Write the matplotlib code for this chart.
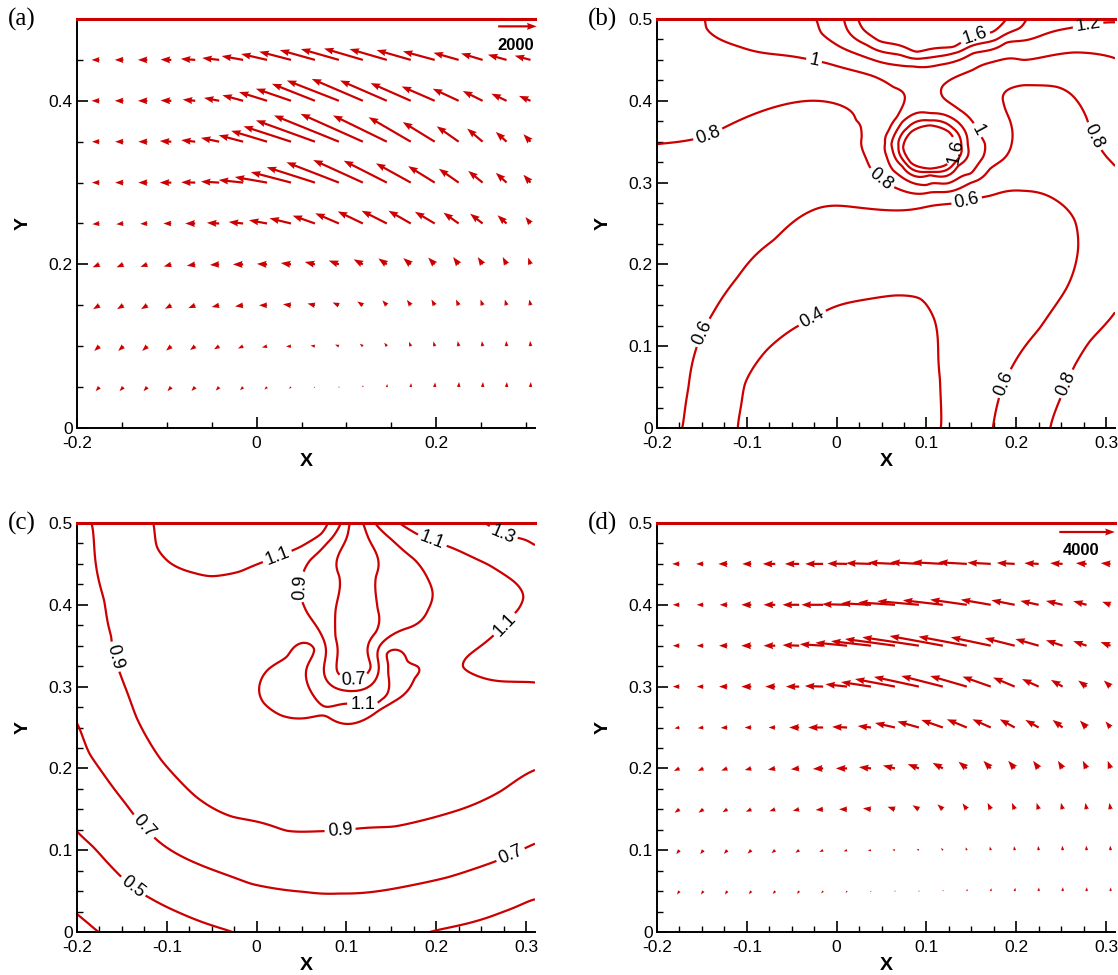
import numpy as np
import matplotlib
matplotlib.use('Agg')
import matplotlib.pyplot as plt
from matplotlib.ticker import MultipleLocator, FuncFormatter

plt.rcParams['font.family'] = ['Liberation Sans', 'DejaVu Sans']
plt.rcParams['axes.unicode_minus'] = False

RED = '#cc0000'

# ---------------- vector fields (a) and (d) ----------------
# grid of arrow tails
xq = np.linspace(-0.175, 0.305, 19)
yq = [0.05, 0.10, 0.15, 0.20, 0.25, 0.30, 0.35, 0.40, 0.45]

# (a) velocity components, one row per yq value (bottom -> top)
ua = [
    [-200, -200, -200, -200, -200, -180, -160, -140, -110, -70, -40, 0, 20, 20, 20, 20, 20, 20, 20],
    [-270, -270, -270, -270, -270, -270, -270, -270, -260, -230, -200, -160, -130, -90, -70, -50, -40, -20, -20],
    [-330, -330, -330, -330, -360, -390, -420, -420, -420, -390, -330, -290, -230, -200, -170, -140, -110, -90, -60],
    [-360, -360, -360, -390, -440, -480, -530, -530, -530, -530, -530, -480, -440, -390, -340, -290, -250, -200, -120],
    [-370, -370, -370, -410, -520, -640, -750, -940, -1120, -1160, -1230, -1310, -1310, -1160, -1030, -790, -650, -470, -260],
    [-390, -430, -470, -600, -730, -950, -1270, -1680, -2090, -2510, -2730, -2580, -2240, -1810, -1380, -1030, -750, -560, -370],
    [-390, -430, -470, -600, -730, -950, -1270, -1870, -2470, -3070, -3380, -3240, -2800, -2190, -1660, -1140, -800, -560, -370],
    [-410, -450, -490, -560, -650, -790, -1080, -1460, -1830, -2240, -2710, -2660, -2430, -2090, -1720, -1350, -1030, -790, -600],
    [-410, -450, -490, -560, -750, -880, -1120, -1350, -1650, -1830, -1980, -2020, -1940, -1780, -1650, -1310, -1120, -970, -820],
]
va = [
    [-230, -230, -230, -230, -220, -200, -180, -140, -90, -40, 40, 110, 180, 230, 270, 290, 290, 290, 290],
    [-270, -270, -270, -250, -220, -180, -130, -70, -20, 40, 90, 140, 200, 250, 270, 290, 290, 300, 300],
    [-220, -220, -220, -200, -160, -100, -60, 0, 60, 100, 160, 220, 280, 310, 330, 330, 330, 330, 330],
    [-170, -170, -140, -120, -80, -30, 0, 30, 80, 140, 220, 290, 340, 360, 390, 420, 420, 420, 390],
    [-40, -40, -20, 0, 0, 40, 90, 190, 300, 450, 580, 690, 730, 730, 670, 620, 560, 470, 370],
    [0, 0, 0, 0, 20, 60, 150, 320, 600, 880, 1160, 1290, 1250, 1100, 940, 790, 670, 560, 450],
    [0, 0, 0, 40, 90, 220, 370, 620, 880, 1220, 1500, 1590, 1500, 1400, 1120, 880, 750, 560, 430],
    [0, 0, 0, 20, 70, 170, 320, 500, 690, 970, 1160, 1250, 1160, 1010, 820, 690, 560, 410, 280],
    [0, 0, 0, 20, 60, 110, 220, 340, 470, 560, 620, 650, 620, 560, 490, 410, 370, 300, 240],
]

# (d) velocity components
ud = [
    [-180, -180, -180, -180, -180, -160, -140, -110, -70, -40, 0, 40, 40, 40, 40, 20, 20, 20, 20],
    [-230, -230, -250, -270, -270, -270, -270, -250, -230, -200, -160, -130, -90, -70, -50, -40, -20, -20, -20],
    [-350, -350, -350, -390, -420, -460, -540, -580, -580, -540, -460, -390, -310, -230, -200, -150, -120, -80, -80],
    [-400, -400, -440, -470, -530, -600, -740, -810, -870, -870, -810, -740, -600, -530, -470, -400, -340, -270, -200],
    [-360, -410, -480, -480, -480, -720, -1080, -1080, -960, -1440, -1560, -1560, -1440, -1320, -1080, -960, -720, -480, -360],
    [-480, -480, -600, -720, -720, -960, -1320, -1560, -2160, -2880, -3240, -3000, -2640, -2040, -1560, -1200, -840, -600, -480],
    [-480, -480, -600, -720, -840, -1200, -1680, -2280, -2880, -3600, -4080, -3840, -3480, -2880, -2160, -1680, -1200, -960, -720],
    [-480, -480, -550, -720, -840, -1200, -1560, -1800, -2160, -2640, -3000, -2880, -2640, -2160, -1680, -1320, -1200, -960, -600],
    [-520, -520, -650, -650, -900, -1030, -1290, -1420, -1800, -1940, -2060, -2190, -2060, -1680, -1290, -1030, -900, -770, -700],
]
vd = [
    [-270, -270, -270, -250, -230, -220, -180, -140, -90, -40, 40, 110, 180, 230, 270, 290, 310, 310, 290],
    [-310, -310, -290, -270, -230, -200, -140, -90, -40, 40, 110, 180, 230, 290, 320, 340, 360, 360, 360],
    [-270, -270, -230, -200, -150, -120, -50, 0, 80, 200, 320, 390, 470, 510, 510, 510, 510, 510, 510],
    [-200, -200, -170, -130, -100, -70, -40, 0, 100, 230, 340, 440, 530, 600, 600, 600, 600, 600, 600],
    [-70, -50, -30, 0, 0, 0, 0, 50, 120, 360, 480, 600, 650, 650, 650, 600, 600, 550, 480],
    [0, 0, 0, 0, 0, 0, 50, 190, 360, 600, 770, 840, 840, 790, 720, 600, 530, 480, 480],
    [0, 0, 0, 0, 0, 50, 120, 240, 360, 530, 670, 770, 720, 670, 600, 530, 430, 360, 290],
    [0, 0, 0, 0, 0, 0, 0, 50, 120, 190, 290, 360, 410, 410, 360, 310, 310, 290, 240],
    [0, 0, 0, 0, 0, 0, 0, 30, 60, 100, 130, 130, 130, 100, 80, 60, 60, 60, 60],
]

# ---------------- contour traces for (b) ----------------
b_levels = [0.4, 0.6, 0.8, 1.0, 1.2, 1.4, 1.6]
b_04 = [(-0.110, 0.0), (-0.106, 0.03), (-0.102, 0.054), (-0.078, 0.095), (-0.05, 0.12),
        (-0.027, 0.134), (0.009, 0.152), (0.065, 0.162), (0.093, 0.158), (0.109, 0.132),
        (0.113, 0.1), (0.115, 0.06), (0.116, 0.0)]
b_06 = [(-0.172, 0.0), (-0.165, 0.05), (-0.158, 0.091), (-0.138, 0.14), (-0.11, 0.185),
        (-0.07, 0.23), (-0.031, 0.264), (0.02, 0.27), (0.069, 0.266), (0.125, 0.274),
        (0.171, 0.284), (0.208, 0.29), (0.245, 0.278), (0.265, 0.254), (0.269, 0.221),
        (0.256, 0.171), (0.226, 0.122), (0.196, 0.076), (0.179, 0.029), (0.174, 0.0)]
b_08 = [(-0.2, 0.347), (-0.143, 0.358), (-0.089, 0.385), (-0.03, 0.400), (0.011, 0.391),
        (0.022, 0.376), (0.028, 0.356), (0.037, 0.319), (0.056, 0.299), (0.104, 0.288),
        (0.15, 0.3), (0.171, 0.317), (0.186, 0.329), (0.195, 0.348), (0.193, 0.376),
        (0.186, 0.397), (0.19, 0.413), (0.208, 0.419), (0.245, 0.417), (0.267, 0.401),
        (0.278, 0.38), (0.286, 0.356), (0.301, 0.331), (0.311, 0.319),
        (0.238, 0.0), (0.245, 0.025), (0.256, 0.054), (0.265, 0.076), (0.282, 0.106),
        (0.311, 0.143)]
b_10 = [(-0.147, 0.5), (-0.145, 0.489), (-0.133, 0.477), (-0.108, 0.466), (-0.037, 0.452),
        (-0.011, 0.446), (0.041, 0.43), (0.063, 0.417), (0.076, 0.405), (0.067, 0.38),
        (0.058, 0.364), (0.054, 0.348), (0.056, 0.331), (0.063, 0.315), (0.078, 0.303),
        (0.1, 0.297), (0.123, 0.299), (0.149, 0.311), (0.163, 0.331), (0.165, 0.348),
        (0.157, 0.364), (0.137, 0.389), (0.118, 0.405), (0.123, 0.423), (0.152, 0.438),
        (0.208, 0.45), (0.263, 0.459), (0.31, 0.452)]
b_12 = [(-0.023, 0.5), (-0.017, 0.483), (0.004, 0.466), (0.041, 0.45), (0.085, 0.442),
        (0.115, 0.444), (0.152, 0.458), (0.189, 0.471), (0.226, 0.479), (0.26, 0.489),
        (0.31, 0.496),
        (0.061, 0.347), (0.073, 0.374), (0.104, 0.385), (0.135, 0.374), (0.146, 0.347),
        (0.135, 0.32), (0.104, 0.309), (0.073, 0.32)]
b_14 = [(0.008, 0.5), (0.013, 0.485), (0.034, 0.468), (0.071, 0.456), (0.097, 0.452),
        (0.13, 0.458), (0.178, 0.475), (0.204, 0.489), (0.212, 0.5),
        (0.069, 0.344), (0.079, 0.367), (0.104, 0.376), (0.129, 0.367), (0.139, 0.344),
        (0.129, 0.321), (0.104, 0.313), (0.079, 0.321)]
b_16 = [(0.024, 0.5), (0.03, 0.487), (0.048, 0.473), (0.089, 0.46), (0.13, 0.466),
        (0.154, 0.479), (0.175, 0.485), (0.189, 0.5),
        (0.074, 0.343), (0.083, 0.362), (0.104, 0.370), (0.125, 0.362), (0.134, 0.343),
        (0.125, 0.324), (0.104, 0.317), (0.083, 0.324)]
b_spots = [(-0.2, 0.0, 0.65), (0.0, 0.0, 0.3), (0.0, 0.08, 0.32), (0.05, 0.1, 0.34),
           (-0.05, 0.06, 0.33), (0.145, 0.0, 0.5), (0.205, 0.0, 0.7), (0.31, 0.0, 0.92),
           (0.31, 0.23, 0.74), (-0.2, 0.22, 0.72), (-0.05, 0.2, 0.5), (0.2, 0.2, 0.5),
           (0.04, 0.21, 0.5), (0.09, 0.2, 0.49), (0.135, 0.16, 0.48), (0.14, 0.07, 0.47),
           (0.16, 0.23, 0.53), (0.0, 0.33, 0.7), (-0.1, 0.3, 0.7), (0.24, 0.35, 0.72),
           (0.24, 0.44, 0.9), (0.31, 0.39, 0.9), (-0.15, 0.43, 0.9), (-0.2, 0.5, 0.95),
           (-0.08, 0.49, 1.1), (0.31, 0.475, 1.1), (0.1, 0.5, 1.75), (0.104, 0.343, 1.85),
           (0.097, 0.405, 1.08), (0.041, 0.352, 0.9)]
b_labels = [(-0.025, 0.45), (0.154, 0.479), (0.28, 0.493), (-0.143, 0.358), (0.05, 0.305),
            (0.157, 0.364), (0.133, 0.338), (0.145, 0.277), (0.286, 0.356), (-0.148, 0.116),
            (-0.027, 0.134), (0.188, 0.054), (0.256, 0.054)]

# ---------------- contour traces for (c) ----------------
c_levels = [0.3, 0.5, 0.7, 0.9, 1.1, 1.3]
c_03 = [(-0.2, 0.022), (-0.188, 0.011), (-0.176, 0.0)]
c_05 = [(-0.2, 0.123), (-0.182, 0.104), (-0.154, 0.071), (-0.138, 0.055), (-0.118, 0.041),
        (-0.087, 0.024), (-0.055, 0.010), (-0.027, 0.0),
        (0.193, 0.0), (0.233, 0.010), (0.273, 0.024), (0.31, 0.040)]
c_07 = [(-0.2, 0.255), (-0.186, 0.218), (-0.166, 0.186), (-0.146, 0.157), (-0.126, 0.129),
        (-0.106, 0.108), (-0.067, 0.084), (-0.006, 0.059), (0.053, 0.049), (0.093, 0.047),
        (0.153, 0.053), (0.213, 0.067), (0.265, 0.086), (0.31, 0.108),
        (0.104, 0.5), (0.098, 0.476), (0.092, 0.435), (0.088, 0.394), (0.088, 0.36),
        (0.09, 0.318), (0.109, 0.308), (0.127, 0.324), (0.133, 0.367), (0.135, 0.394),
        (0.133, 0.435), (0.127, 0.476), (0.118, 0.5)]
c_09 = [(-0.184, 0.5), (-0.18, 0.459), (-0.17, 0.406), (-0.162, 0.361), (-0.148, 0.304),
        (-0.134, 0.263), (-0.106, 0.210), (-0.067, 0.165), (-0.027, 0.141), (0.033, 0.124),
        (0.093, 0.124), (0.153, 0.129), (0.213, 0.145), (0.273, 0.173), (0.31, 0.198),
        (0.094, 0.5), (0.079, 0.476), (0.06, 0.455), (0.049, 0.422), (0.053, 0.398),
        (0.064, 0.378),
        (0.132, 0.5), (0.15, 0.48), (0.176, 0.455), (0.191, 0.431), (0.196, 0.414),
        (0.191, 0.394), (0.172, 0.373)]
c_11 = [(-0.115, 0.5), (-0.111, 0.471), (-0.096, 0.451), (-0.07, 0.439), (-0.051, 0.435),
        (-0.018, 0.441), (0.004, 0.451), (0.023, 0.459), (0.049, 0.471), (0.072, 0.487),
        (0.159, 0.5), (0.183, 0.484), (0.219, 0.469), (0.258, 0.449), (0.288, 0.427),
        (0.297, 0.41), (0.291, 0.394), (0.276, 0.376), (0.258, 0.357), (0.235, 0.337),
        (0.23, 0.324), (0.254, 0.31), (0.284, 0.306), (0.31, 0.305),
        (0.064, 0.346), (0.034, 0.337), (0.012, 0.320), (0.003, 0.300), (0.008, 0.280),
        (0.027, 0.265), (0.049, 0.261), (0.079, 0.263), (0.118, 0.278), (0.139, 0.284),
        (0.176, 0.31), (0.181, 0.318), (0.18, 0.324), (0.168, 0.331), (0.145, 0.34)]
c_13 = [(0.254, 0.5), (0.274, 0.486), (0.31, 0.473)]
c_spots = [(-0.1, 0.0, 0.42), (0.08, 0.0, 0.6), (0.31, 0.0, 0.45), (0.31, 0.07, 0.6),
           (-0.2, 0.19, 0.6), (0.0, 0.1, 0.8), (-0.2, 0.35, 0.86), (-0.2, 0.5, 0.87),
           (-0.06, 0.3, 1.0), (0.2, 0.22, 1.0), (0.31, 0.25, 1.02), (0.0, 0.2, 0.97),
           (-0.03, 0.48, 1.16), (0.305, 0.38, 1.18), (0.31, 0.495, 1.32), (0.2, 0.35, 1.0),
           (0.111, 0.45, 0.6), (0.111, 0.36, 0.6), (0.04, 0.31, 1.15), (0.05, 0.285, 1.15),
           (0.1, 0.275, 1.13), (0.15, 0.318, 1.14), (0.155, 0.302, 1.13),
           (0.08, 0.235, 1.0), (0.0, 0.25, 1.0), (0.16, 0.255, 1.0),
           (-0.03, 0.33, 1.0), (0.205, 0.3, 1.0), (0.0, 0.36, 1.0), (0.03, 0.37, 0.98),
           (0.04, 0.235, 1.0), (0.125, 0.24, 1.0)]
c_labels = [(0.023, 0.459), (0.049, 0.422), (0.108, 0.312), (0.196, 0.48), (0.274, 0.486),
            (0.276, 0.376), (0.118, 0.278), (-0.156, 0.337), (0.093, 0.124), (-0.126, 0.129),
            (0.283, 0.094), (-0.138, 0.055)]


def spline_surface(samples, gx, gy, smooth=3e-6):
    # thin-plate spline through the traced (x, y, value) samples
    s = np.asarray(samples, float)
    px, py, pv = s[:, 0], s[:, 1], s[:, 2]
    n = len(px)
    r = np.hypot(px[:, None] - px[None, :], py[:, None] - py[None, :])
    with np.errstate(divide='ignore', invalid='ignore'):
        k = np.where(r > 0, r ** 2 * np.log(r), 0.0)
    k += smooth * np.eye(n)
    p = np.column_stack([np.ones(n), px, py])
    a = np.zeros((n + 3, n + 3))
    a[:n, :n] = k
    a[:n, n:] = p
    a[n:, :n] = p.T
    w = np.linalg.solve(a, np.concatenate([pv, np.zeros(3)]))
    X, Y = np.meshgrid(gx, gy)
    xf, yf = X.ravel(), Y.ravel()
    r = np.hypot(xf[:, None] - px[None, :], yf[:, None] - py[None, :])
    with np.errstate(divide='ignore', invalid='ignore'):
        u = np.where(r > 0, r ** 2 * np.log(r), 0.0)
    z = u @ w[:n] + w[n] + w[n + 1] * xf + w[n + 2] * yf
    return X, Y, z.reshape(X.shape)


def collect(traces, spots):
    out = []
    for lev, pts in traces:
        out += [(x, y, lev) for x, y in pts]
    return out + list(spots)


def style_axes(ax, major, minor, ylabels):
    ax.set_xlim(-0.2, 0.31)
    ax.set_ylim(0, 0.5)
    ax.xaxis.set_major_locator(MultipleLocator(major))
    ax.xaxis.set_minor_locator(MultipleLocator(minor))
    ax.yaxis.set_major_locator(MultipleLocator(ylabels))
    ax.yaxis.set_minor_locator(MultipleLocator(minor))
    fmt = FuncFormatter(lambda v, p: f'{round(v, 3):g}')
    ax.xaxis.set_major_formatter(fmt)
    ax.yaxis.set_major_formatter(fmt)
    ax.tick_params(which='major', direction='in', length=8, width=1.2, labelsize=12.5)
    ax.tick_params(axis='x', which='major', pad=6)
    ax.tick_params(axis='y', which='major', pad=3)
    ax.tick_params(which='minor', direction='in', length=4.5, width=1.0)
    for side in ('top', 'right'):
        ax.spines[side].set_visible(False)
    for side in ('left', 'bottom'):
        ax.spines[side].set_linewidth(1.4)
    ax.set_xlabel('X', fontsize=14, fontweight='bold', labelpad=1)
    ax.set_ylabel('Y', fontsize=14, fontweight='bold', labelpad=12)
    ax.axhline(0.5, color=RED, lw=2.2, clip_on=False, zorder=3)


W, H = 1118, 975
fig = plt.figure(figsize=(W / 100, H / 100), dpi=100)


def box(left, top, right, bottom):
    return [left / W, 1 - bottom / H, (right - left) / W, (bottom - top) / H]


ax_a = fig.add_axes(box(77, 19, 535, 428))
ax_b = fig.add_axes(box(657, 19, 1115, 428))
ax_c = fig.add_axes(box(77, 523, 535, 932))
ax_d = fig.add_axes(box(657, 523, 1115, 932))

style_axes(ax_a, 0.2, 0.05, 0.2)
ax_a.yaxis.set_minor_locator(MultipleLocator(0.05))
for ax in (ax_b, ax_c, ax_d):
    style_axes(ax, 0.1, 0.025, 0.1)

XQ, YQ = np.meshgrid(xq, yq)
arrow_kw = dict(color=RED, angles='xy', scale_units='xy', pivot='tail',
                width=0.0048, headwidth=3.2, headlength=4.4, headaxislength=4.0,
                minlength=0.5, zorder=4)

ax_a.quiver(XQ, YQ, np.array(ua), np.array(va), scale=46700, **arrow_kw)
ax_a.quiver([0.269], [0.491], [2000], [0], scale=46700, clip_on=False, **arrow_kw)
ax_a.text(0.289, 0.468, '2000', ha='center', va='center', fontsize=12, fontweight='bold')

ax_d.quiver(XQ, YQ, np.array(ud), np.array(vd), scale=64700, **arrow_kw)
ax_d.quiver([0.248], [0.489], [4000], [0], scale=64700, clip_on=False, **arrow_kw)
ax_d.text(0.272, 0.466, '4000', ha='center', va='center', fontsize=12, fontweight='bold')

gx = np.linspace(-0.2, 0.31, 320)
gy = np.linspace(0.0, 0.5, 320)

b_samples = collect([(0.4, b_04), (0.6, b_06), (0.8, b_08), (1.0, b_10),
                     (1.2, b_12), (1.4, b_14), (1.6, b_16)], b_spots)
X, Y, Zb = spline_surface(b_samples, gx, gy)
cs_b = ax_b.contour(X, Y, Zb, levels=b_levels, colors=RED, linewidths=1.6)
ax_b.clabel(cs_b, manual=b_labels, inline=True, inline_spacing=3, fontsize=13,
            fmt=lambda v: f'{v:g}', colors='black')

c_samples = collect([(0.3, c_03), (0.5, c_05), (0.7, c_07), (0.9, c_09),
                     (1.1, c_11), (1.3, c_13)], c_spots)
X, Y, Zc = spline_surface(c_samples, gx, gy)
cs_c = ax_c.contour(X, Y, Zc, levels=c_levels, colors=RED, linewidths=1.6)
ax_c.clabel(cs_c, manual=c_labels, inline=True, inline_spacing=3, fontsize=13,
            fmt=lambda v: f'{v:g}', colors='black')

for ax, tag in ((ax_a, '(a)'), (ax_b, '(b)'), (ax_c, '(c)'), (ax_d, '(d)')):
    ax.text(-0.12, 0.998, tag, transform=ax.transAxes, ha='center', va='center',
            fontsize=18, family=['Liberation Serif', 'DejaVu Serif'])

fig.savefig('out.png', dpi=100)
